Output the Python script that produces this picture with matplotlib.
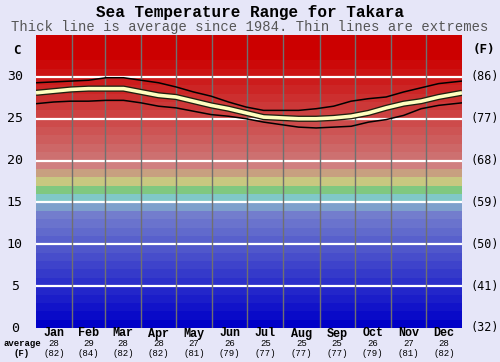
import numpy as np
import matplotlib
matplotlib.use("Agg")
import matplotlib.pyplot as plt
from matplotlib.colors import to_hex

# day-of-year samples and temperatures (C)
days = [0, 15, 30, 45, 60, 75, 90, 105, 120, 135, 150, 165, 180,
        195, 210, 225, 240, 255, 270, 285, 300, 315, 330, 345, 365]
avg_t = [28.1, 28.3, 28.5, 28.6, 28.6, 28.6, 28.2, 27.8, 27.6, 27.1, 26.6, 26.2, 25.7,
         25.2, 25.1, 25.0, 25.0, 25.1, 25.3, 25.7, 26.3, 26.8, 27.1, 27.6, 28.1]
max_t = [29.3, 29.4, 29.5, 29.6, 29.9, 29.9, 29.6, 29.3, 28.8, 28.2, 27.7, 27.0, 26.4,
         26.0, 26.0, 26.0, 26.2, 26.5, 27.1, 27.4, 27.6, 28.2, 28.7, 29.2, 29.5]
min_t = [26.8, 27.0, 27.1, 27.1, 27.2, 27.2, 26.9, 26.5, 26.3, 25.9, 25.5, 25.3, 25.0,
         24.6, 24.3, 24.0, 23.9, 24.0, 24.1, 24.6, 24.9, 25.4, 26.2, 26.6, 26.9]

months = ["Jan", "Feb", "Mar", "Apr", "May", "Jun",
          "Jul", "Aug", "Sep", "Oct", "Nov", "Dec"]
month_days = [31, 28, 31, 30, 31, 30, 31, 31, 30, 31, 30, 31]
month_avg_c = [28, 29, 28, 28, 27, 26, 25, 25, 25, 26, 27, 28]
month_avg_f = [82, 84, 82, 82, 81, 79, 77, 77, 77, 79, 81, 82]

c_ticks = [0, 5, 10, 15, 20, 25, 30]
f_labels = ["(32)", "(41)", "(50)", "(59)", "(68)", "(77)", "(86)"]

W, H = 500, 362
BG = "#e6e6f8"
MONO = "Liberation Mono"

fig = plt.figure(figsize=(W / 100, H / 100), dpi=100, facecolor=BG)
top_px, bot_px = 35, 328
ax = fig.add_axes([36 / W, 1 - bot_px / H, (462 - 36) / W, (bot_px - top_px) / H])
ymax = (bot_px - top_px) / 8.37
ax.set_xlim(0, 365)
ax.set_ylim(0, ymax)
ax_h = bot_px - top_px

# colour bands, one per degree
def band_color(t):
    if t < 14:
        f = t / 13.0
        return np.array([0, 0, 200]) + f * np.array([115, 125, 5])
    fixed = {14: (126, 160, 204), 15: (128, 200, 200), 16: (128, 200, 128),
             17: (200, 200, 128), 18: (200, 160, 128), 19: (208, 128, 128)}
    if t in fixed:
        return np.array(fixed[t])
    if t >= 32:
        return np.array([204, 0, 0])
    f = (t - 20) / 12.0
    return np.array([205, 112, 112]) + f * np.array([-1, -112, -112])

for t in range(0, 37):
    ax.axhspan(t, t + 1, color=to_hex(band_color(t) / 255), lw=0, zorder=0)

for c in c_ticks[1:]:
    ax.axhline(c, color="white", lw=1.6, zorder=1)
edges = np.cumsum(month_days)[:-1]
for e in edges:
    ax.axvline(e, color="#707070", lw=1, zorder=1)

ax.plot(days, max_t, color="black", lw=1.1, zorder=3)
ax.plot(days, min_t, color="black", lw=1.1, zorder=3)
ax.plot(days, avg_t, color="#202010", lw=4.5, zorder=4, solid_capstyle="butt")
ax.plot(days, avg_t, color="#ffffc0", lw=2.6, zorder=5, solid_capstyle="butt")

ax.set_xticks([])
ax.set_yticks([])
for s in ax.spines.values():
    s.set_visible(False)

# y labels
for c, fl in zip(c_ticks, f_labels):
    ax.text(-0.05, c, str(c), transform=ax.get_yaxis_transform(), ha="center",
            va="center", fontsize=9.5, family="DejaVu Sans Mono", color="black")
    ax.text(1.02, c, fl, transform=ax.get_yaxis_transform(), ha="left",
            va="center", fontsize=8.5, family="DejaVu Sans Mono", color="black")
fig.text(17 / W, 1 - 50 / H, "C", ha="center", va="center", fontsize=9,
         family="DejaVu Sans Mono", weight="bold")
fig.text(484 / W, 1 - 50 / H, "(F)", ha="center", va="center", fontsize=9,
         family="DejaVu Sans Mono", weight="bold")

# month labels
starts = np.concatenate([[0], edges])
centers = starts + np.array(month_days) / 2
tr = ax.get_xaxis_transform()
for m, x, c, f in zip(months, centers, month_avg_c, month_avg_f):
    ax.text(x, -5.5 / ax_h, m, transform=tr, ha="center", va="center",
            fontsize=8.5, family=MONO, weight="bold")
    ax.text(x, -15.5 / ax_h, str(c), transform=tr, ha="center", va="center",
            fontsize=6.5, family=MONO)
    ax.text(x, -25 / ax_h, "(%d)" % f, transform=tr, ha="center", va="center",
            fontsize=6.5, family=MONO)
fig.text(22 / W, 1 - 343.5 / H, "average", ha="center", va="center",
         fontsize=6.5, family=MONO, weight="bold")
fig.text(22 / W, 1 - 353 / H, "(F)", ha="center", va="center",
         fontsize=6.5, family=MONO, weight="bold")

fig.text(0.5, 1 - 12 / H, "Sea Temperature Range for Takara", ha="center",
         va="center", fontsize=11.5, family=MONO, weight="bold")
fig.text(0.5, 1 - 27 / H,
         "Thick line is average since 1984. Thin lines are extremes",
         ha="center", va="center", fontsize=10, family=MONO, color="#555555")

fig.savefig("out.png", dpi=100, facecolor=BG)
